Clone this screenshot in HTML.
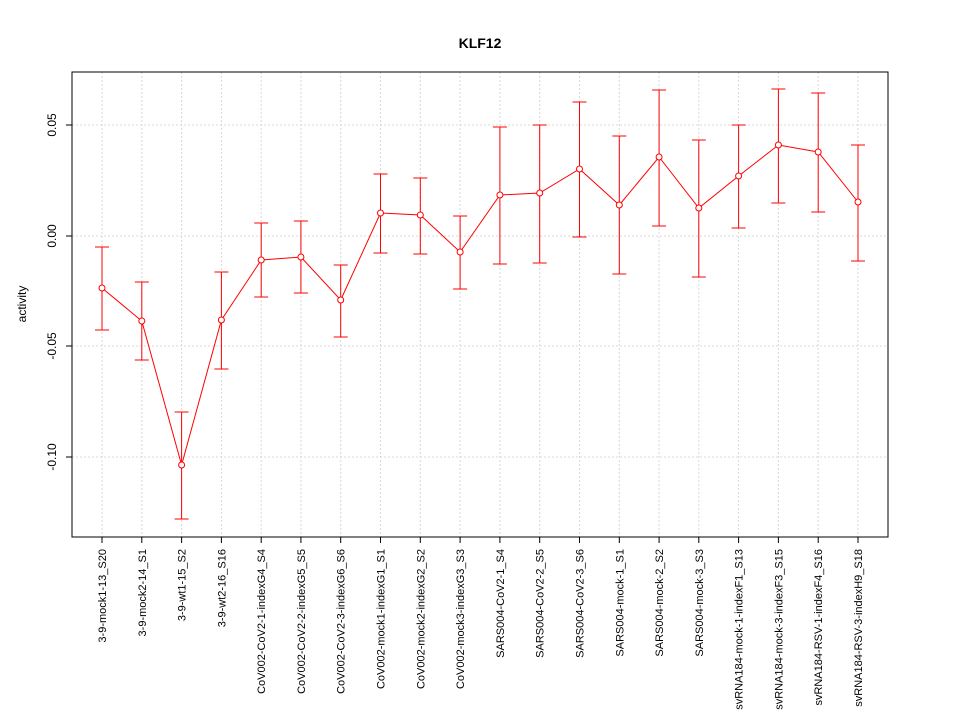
<!DOCTYPE html>
<html><head><meta charset="utf-8"><style>body{margin:0;background:#fff}</style></head><body>
<svg width="960" height="720" xmlns="http://www.w3.org/2000/svg" font-family="Liberation Sans, sans-serif">
<rect width="960" height="720" fill="#fff"/>
<text x="480" y="48" text-anchor="middle" font-size="14" font-weight="bold">KLF12</text>
<g stroke="#d8d8d8" stroke-dasharray="2,2" stroke-width="1">
<line x1="72" x2="888" y1="125" y2="125"/><line x1="72" x2="888" y1="236" y2="236"/><line x1="72" x2="888" y1="346" y2="346"/><line x1="72" x2="888" y1="457" y2="457"/>
<line x1="102" x2="102" y1="72" y2="537"/><line x1="141.8" x2="141.8" y1="72" y2="537"/><line x1="181.6" x2="181.6" y1="72" y2="537"/><line x1="221.4" x2="221.4" y1="72" y2="537"/><line x1="261.2" x2="261.2" y1="72" y2="537"/><line x1="300.9" x2="300.9" y1="72" y2="537"/><line x1="340.7" x2="340.7" y1="72" y2="537"/><line x1="380.5" x2="380.5" y1="72" y2="537"/><line x1="420.3" x2="420.3" y1="72" y2="537"/><line x1="460.1" x2="460.1" y1="72" y2="537"/><line x1="499.9" x2="499.9" y1="72" y2="537"/><line x1="539.7" x2="539.7" y1="72" y2="537"/><line x1="579.5" x2="579.5" y1="72" y2="537"/><line x1="619.3" x2="619.3" y1="72" y2="537"/><line x1="659.1" x2="659.1" y1="72" y2="537"/><line x1="698.8" x2="698.8" y1="72" y2="537"/><line x1="738.6" x2="738.6" y1="72" y2="537"/><line x1="778.4" x2="778.4" y1="72" y2="537"/><line x1="818.2" x2="818.2" y1="72" y2="537"/><line x1="858" x2="858" y1="72" y2="537"/>
</g>
<rect x="72" y="72" width="816" height="465" fill="none" stroke="#000"/>
<g stroke="#000"><line x1="66" x2="72" y1="125" y2="125"/><line x1="66" x2="72" y1="236" y2="236"/><line x1="66" x2="72" y1="346" y2="346"/><line x1="66" x2="72" y1="457" y2="457"/></g>
<g font-size="12" text-anchor="middle">
<text transform="translate(56,125) rotate(-90)">0.05</text>
<text transform="translate(56,236) rotate(-90)">0.00</text>
<text transform="translate(56,346) rotate(-90)">-0.05</text>
<text transform="translate(56,457) rotate(-90)">-0.10</text>
<text transform="translate(26,304) rotate(-90)">activity</text>
</g>
<g stroke="#f00" stroke-width="1" fill="none">
<path d="M102 247V330M95 247H109M95 330H109"/>
<path d="M141.8 282V360M134.8 282H148.8M134.8 360H148.8"/>
<path d="M181.6 412V519M174.6 412H188.6M174.6 519H188.6"/>
<path d="M221.4 272V369M214.4 272H228.4M214.4 369H228.4"/>
<path d="M261.2 223V297M254.2 223H268.2M254.2 297H268.2"/>
<path d="M300.9 221V293M293.9 221H307.9M293.9 293H307.9"/>
<path d="M340.7 265V337M333.7 265H347.7M333.7 337H347.7"/>
<path d="M380.5 174V253M373.5 174H387.5M373.5 253H387.5"/>
<path d="M420.3 178V254M413.3 178H427.3M413.3 254H427.3"/>
<path d="M460.1 216V289M453.1 216H467.1M453.1 289H467.1"/>
<path d="M499.9 127V264M492.9 127H506.9M492.9 264H506.9"/>
<path d="M539.7 125V263M532.7 125H546.7M532.7 263H546.7"/>
<path d="M579.5 102V237M572.5 102H586.5M572.5 237H586.5"/>
<path d="M619.3 136V274M612.3 136H626.3M612.3 274H626.3"/>
<path d="M659.1 90V226M652.1 90H666.1M652.1 226H666.1"/>
<path d="M698.8 140V277M691.8 140H705.8M691.8 277H705.8"/>
<path d="M738.6 125V228M731.6 125H745.6M731.6 228H745.6"/>
<path d="M778.4 89V203M771.4 89H785.4M771.4 203H785.4"/>
<path d="M818.2 93V212M811.2 93H825.2M811.2 212H825.2"/>
<path d="M858 145V261M851 145H865M851 261H865"/>
<polyline points="102,288 141.8,321 181.6,465 221.4,320 261.2,260 300.9,257 340.7,300 380.5,213 420.3,215 460.1,252 499.9,195 539.7,193 579.5,169 619.3,205 659.1,157 698.8,208 738.6,176 778.4,145 818.2,152 858,202"/>
</g>
<g stroke="#f00" fill="#fff">
<circle cx="102" cy="288" r="3"/><circle cx="141.8" cy="321" r="3"/><circle cx="181.6" cy="465" r="3"/><circle cx="221.4" cy="320" r="3"/><circle cx="261.2" cy="260" r="3"/><circle cx="300.9" cy="257" r="3"/><circle cx="340.7" cy="300" r="3"/><circle cx="380.5" cy="213" r="3"/><circle cx="420.3" cy="215" r="3"/><circle cx="460.1" cy="252" r="3"/><circle cx="499.9" cy="195" r="3"/><circle cx="539.7" cy="193" r="3"/><circle cx="579.5" cy="169" r="3"/><circle cx="619.3" cy="205" r="3"/><circle cx="659.1" cy="157" r="3"/><circle cx="698.8" cy="208" r="3"/><circle cx="738.6" cy="176" r="3"/><circle cx="778.4" cy="145" r="3"/><circle cx="818.2" cy="152" r="3"/><circle cx="858" cy="202" r="3"/>
</g>
<g stroke="#000">
<path d="M102 537v6M141.8 537v6M181.6 537v6M221.4 537v6M261.2 537v6M300.9 537v6M340.7 537v6M380.5 537v6M420.3 537v6M460.1 537v6M499.9 537v6M539.7 537v6M579.5 537v6M619.3 537v6M659.1 537v6M698.8 537v6M738.6 537v6M778.4 537v6M818.2 537v6M858 537v6"/>
</g>
<g font-size="11" text-anchor="end">
<text transform="translate(106,549) rotate(-90)">3-9-mock1-13_S20</text>
<text transform="translate(145.8,549) rotate(-90)">3-9-mock2-14_S1</text>
<text transform="translate(185.6,549) rotate(-90)">3-9-wt1-15_S2</text>
<text transform="translate(225.4,549) rotate(-90)">3-9-wt2-16_S16</text>
<text transform="translate(265.2,549) rotate(-90)">CoV002-CoV2-1-indexG4_S4</text>
<text transform="translate(304.9,549) rotate(-90)">CoV002-CoV2-2-indexG5_S5</text>
<text transform="translate(344.7,549) rotate(-90)">CoV002-CoV2-3-indexG6_S6</text>
<text transform="translate(384.5,549) rotate(-90)">CoV002-mock1-indexG1_S1</text>
<text transform="translate(424.3,549) rotate(-90)">CoV002-mock2-indexG2_S2</text>
<text transform="translate(464.1,549) rotate(-90)">CoV002-mock3-indexG3_S3</text>
<text transform="translate(503.9,549) rotate(-90)">SARS004-CoV2-1_S4</text>
<text transform="translate(543.7,549) rotate(-90)">SARS004-CoV2-2_S5</text>
<text transform="translate(583.5,549) rotate(-90)">SARS004-CoV2-3_S6</text>
<text transform="translate(623.3,549) rotate(-90)">SARS004-mock-1_S1</text>
<text transform="translate(663.1,549) rotate(-90)">SARS004-mock-2_S2</text>
<text transform="translate(702.8,549) rotate(-90)">SARS004-mock-3_S3</text>
<text transform="translate(742.6,549) rotate(-90)">svRNA184-mock-1-indexF1_S13</text>
<text transform="translate(782.4,549) rotate(-90)">svRNA184-mock-3-indexF3_S15</text>
<text transform="translate(822.2,549) rotate(-90)">svRNA184-RSV-1-indexF4_S16</text>
<text transform="translate(862,549) rotate(-90)">svRNA184-RSV-3-indexH9_S18</text>
</g>
</svg>
</body></html>
